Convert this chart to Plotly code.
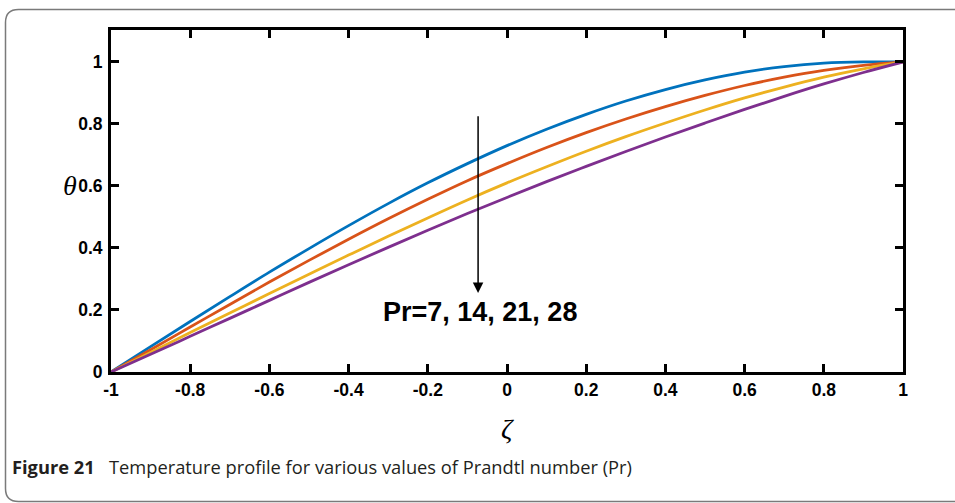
import plotly.graph_objects as go

zeta = [-1.0, -0.9, -0.8, -0.7, -0.6, -0.5, -0.4, -0.3, -0.2, -0.1, 0.0,
        0.1, 0.2, 0.3, 0.4, 0.5, 0.6, 0.7, 0.8, 0.9, 1.0]
theta_pr7 = [0, 0.082, 0.163, 0.243, 0.322, 0.398, 0.472, 0.543, 0.61, 0.672, 0.73,
             0.783, 0.831, 0.874, 0.911, 0.942, 0.967, 0.985, 0.996, 1.0, 1.0]
theta_pr14 = [0, 0.072, 0.145, 0.218, 0.29, 0.36, 0.428, 0.494, 0.557, 0.617, 0.672,
              0.724, 0.772, 0.816, 0.856, 0.892, 0.924, 0.951, 0.973, 0.989, 1.0]
theta_pr21 = [0, 0.063, 0.127, 0.19, 0.253, 0.315, 0.377, 0.438, 0.497, 0.555, 0.61,
              0.662, 0.712, 0.759, 0.803, 0.845, 0.884, 0.919, 0.951, 0.978, 1.0]
theta_pr28 = [0, 0.057, 0.115, 0.173, 0.231, 0.289, 0.346, 0.402, 0.457, 0.511, 0.563,
              0.614, 0.663, 0.711, 0.758, 0.803, 0.847, 0.889, 0.929, 0.966, 1.0]
series_names = ["Pr=7", "Pr=14", "Pr=21", "Pr=28"]
colors = ["#0072BD", "#D95319", "#EDB120", "#7E2F8E"]

x_ticks = [-1, -0.8, -0.6, -0.4, -0.2, 0, 0.2, 0.4, 0.6, 0.8, 1]
x_ticktext = ["-1", "-0.8", "-0.6", "-0.4", "-0.2", "0", "0.2", "0.4", "0.6", "0.8", "1"]
y_ticks = [0, 0.2, 0.4, 0.6, 0.8, 1]
y_ticktext = ["0", "0.2", "0.4", "0.6", "0.8", "1"]

arrow_x = -0.073
arrow_y_start = 0.83
arrow_y_end = 0.255
label_text = "Pr=7, 14, 21, 28"
caption_bold = "Figure 21"
caption_text = "Temperature profile for various values of Prandtl number (Pr)"

W, H = 955, 503
L, R, T, B = 111, 52, 30, 131
pw, ph = W - L - R, H - T - B

def px(xp):
    return (xp - L) / pw

def py(yp):
    return (H - B - yp) / ph

fig = go.Figure()
for ys, name, c in zip([theta_pr7, theta_pr14, theta_pr21, theta_pr28], series_names, colors):
    fig.add_trace(go.Scatter(x=zeta, y=ys, mode="lines", name=name,
                             line=dict(color=c, width=2.8, shape="spline", smoothing=1)))

axis_common = dict(showline=True, linecolor="black", linewidth=3, mirror="ticks",
                   ticks="inside", ticklen=8, tickwidth=3, tickcolor="black",
                   showgrid=False, zeroline=False,
                   tickfont=dict(family="Liberation Sans, Arial", size=17.5, color="black", weight="bold"))
fig.update_xaxes(range=[-1, 1], tickvals=x_ticks, ticktext=x_ticktext, **axis_common)
fig.update_yaxes(range=[0, 1.103], tickvals=y_ticks, ticktext=y_ticktext, ticklabelstandoff=2, **axis_common)

# arrow
fig.add_annotation(x=arrow_x, y=arrow_y_end, ax=arrow_x, ay=arrow_y_start,
                   xref="x", yref="y", axref="x", ayref="y", text="",
                   showarrow=True, arrowhead=2, arrowsize=1.4, arrowwidth=1.5, arrowcolor="black")
fig.add_annotation(x=-0.068, y=0.194, xref="x", yref="y", text=label_text, showarrow=False,
                   xanchor="center", yanchor="middle",
                   font=dict(family="Liberation Sans, Arial", size=27, color="black", weight="bold"))
# axis titles
fig.add_annotation(x=px(70), y=py(185), xref="paper", yref="paper", text="<i>θ</i>",
                   xanchor="center", yanchor="middle",
                   showarrow=False, font=dict(family="Liberation Serif, Times New Roman", size=28, color="black"))
fig.add_annotation(x=px(507), y=py(428), xref="paper", yref="paper", text="<i>ζ</i>",
                   xanchor="center", yanchor="middle",
                   showarrow=False, font=dict(family="Liberation Serif, Times New Roman", size=28, color="black"))
# caption
fig.add_annotation(x=px(10), y=py(467), xref="paper", yref="paper", xanchor="left", yanchor="middle",
                   text="<b>" + caption_bold + "</b>&nbsp;&nbsp;&nbsp;" + caption_text,
                   showarrow=False, font=dict(family="Open Sans", size=18.3, color="#231f20"))

# rounded border
x0, y0, x1, y1, r = 5.5, 9.5, 970, 501.5, 13
path = (f"M {px(x0)},{py(y0 + r)} Q {px(x0)},{py(y0)} {px(x0 + r)},{py(y0)} "
        f"L {px(x1)},{py(y0)} L {px(x1)},{py(y1)} L {px(x0 + r)},{py(y1)} "
        f"Q {px(x0)},{py(y1)} {px(x0)},{py(y1 - r)} Z")
fig.add_shape(type="path", path=path, xref="paper", yref="paper",
              line=dict(color="#7a7a7a", width=1.5), layer="below")

fig.update_layout(width=W, height=H, margin=dict(l=L, r=R, t=T, b=B),
                  plot_bgcolor="white", paper_bgcolor="white", showlegend=False)
fig.write_html("out.html")
